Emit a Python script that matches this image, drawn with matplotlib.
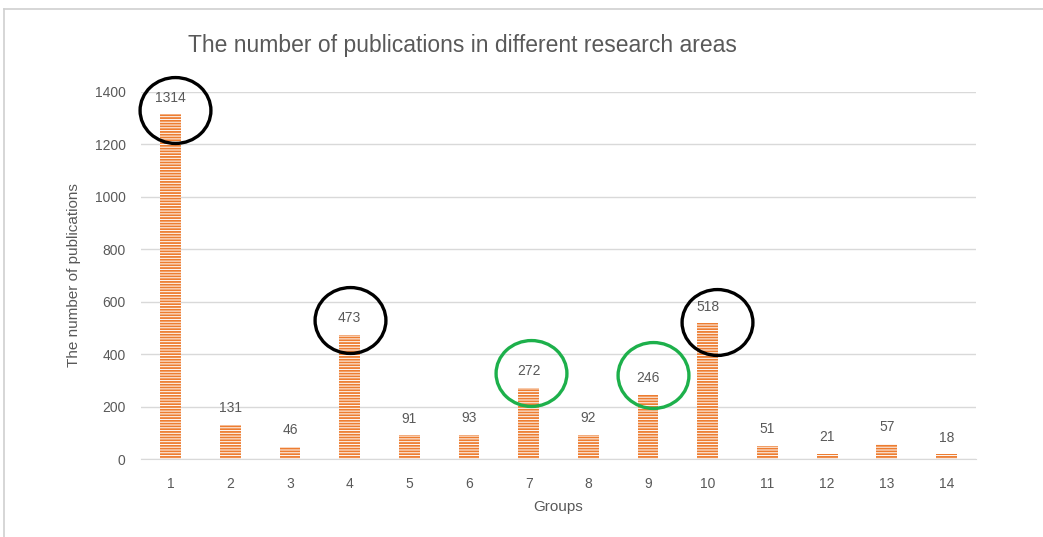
import matplotlib.pyplot as plt
import matplotlib.path as mpath
from matplotlib.transforms import Affine2D
from matplotlib.lines import Line2D

plt.rcParams['font.family'] = ['Liberation Sans', 'DejaVu Sans']
plt.rcParams['hatch.linewidth'] = 1.3

groups = list(range(1, 15))
counts = [1314, 131, 46, 473, 91, 93, 272, 92, 246, 518, 51, 21, 57, 18]

# highlighted groups (circled in the original)
circled_black = [1, 4, 10]
circled_green = [7, 9]

orange = '#ED7D31'
gray_txt = '#595959'

fig = plt.figure(figsize=(10.43, 5.37), dpi=100)
ax = fig.add_axes([0.135, 0.145, 0.801, 0.684])

ax.bar(groups, counts, width=0.35, facecolor='white', edgecolor=orange,
       hatch='------', linewidth=0, zorder=2)

for g, c in zip(groups, counts):
    ax.annotate(str(c), (g, c), xytext=(0, 7), textcoords='offset points',
                ha='center', va='bottom', fontsize=10, color=gray_txt)

# slightly flattened circle marker
ell = mpath.Path.unit_circle().transformed(Affine2D().scale(1, 0.93))
offsets = {1: (0.07, 17), 4: (0.0, 57), 7: (0.04, 56), 9: (0.09, 74), 10: (0.16, 5)}
for g in circled_black + circled_green:
    col = 'black' if g in circled_black else '#1DB04B'
    dx, dy = offsets[g]
    ax.plot(g + dx, counts[g - 1] + dy, marker=ell, markersize=51,
            mfc='none', mec=col, mew=2.4, clip_on=False, zorder=4)

ax.set_xlim(0.5, 14.5)
ax.set_ylim(0, 1400)
ax.set_xticks(groups)
ax.set_yticks(range(0, 1401, 200))
ax.tick_params(axis='y', length=0, labelsize=10, labelcolor=gray_txt, pad=11)
ax.tick_params(axis='x', length=0, labelsize=10, labelcolor=gray_txt, pad=13)
ax.grid(axis='y', color='#D9D9D9', lw=1, zorder=0)
ax.set_axisbelow(True)
for s in ['top', 'right', 'left']:
    ax.spines[s].set_visible(False)
ax.spines['bottom'].set_color('#D9D9D9')

ax.set_xlabel('Groups', fontsize=11, color=gray_txt, labelpad=6)
ax.set_ylabel('The number of publications', fontsize=11, color=gray_txt, labelpad=10)
fig.text(0.443, 0.915, 'The number of publications in different research areas',
         ha='center', va='center', fontsize=16.5, color=gray_txt)

# chart border
fig.add_artist(Line2D([0.004, 1.0], [0.983, 0.983], color='#D0D0D0', lw=1.2))
fig.add_artist(Line2D([0.004, 0.004], [0.0, 0.983], color='#D0D0D0', lw=1.2))

fig.savefig('out.png', dpi=100)
